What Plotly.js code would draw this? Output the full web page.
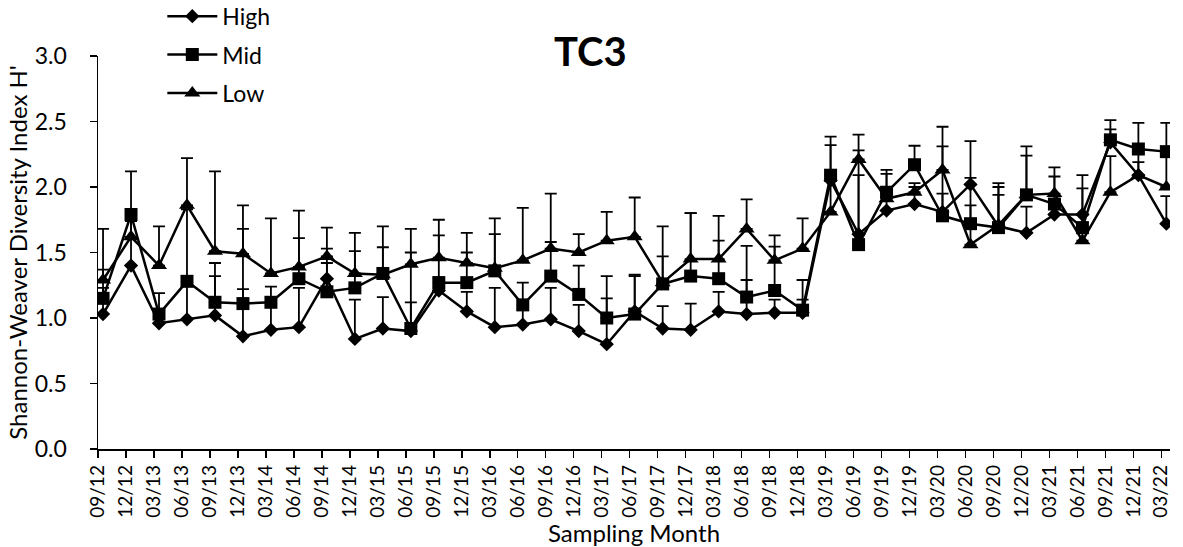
<!DOCTYPE html>
<html><head><meta charset="utf-8">
<script src="https://cdn.plot.ly/plotly-3.0.1.min.js"></script>
<style>html,body{margin:0;padding:0;background:#fff}#chart{width:1183px;height:547px}</style>
</head><body><div id="chart"></div>
<script>
const months = ["09/12","12/12","03/13","06/13","09/13","12/13","03/14","06/14","09/14","12/14","03/15","06/15","09/15","12/15","03/16","06/16","09/16","12/16","03/17","06/17","09/17","12/17","03/18","06/18","09/18","12/18","03/19","06/19","09/19","12/19","03/20","06/20","09/20","12/20","03/21","06/21","09/21","12/21","03/22"];
const high = [1.03,1.40,0.96,0.99,1.02,0.86,0.91,0.93,1.30,0.84,0.92,0.90,1.21,1.05,0.93,0.95,0.99,0.90,0.80,1.05,0.92,0.91,1.05,1.03,1.04,1.04,2.05,1.64,1.82,1.87,1.81,2.02,1.70,1.65,1.79,1.79,2.34,2.09,1.72];
const mid = [1.15,1.79,1.03,1.28,1.12,1.11,1.12,1.30,1.20,1.23,1.34,0.92,1.27,1.27,1.36,1.10,1.32,1.18,1.00,1.03,1.26,1.32,1.30,1.16,1.21,1.06,2.09,1.56,1.96,2.17,1.78,1.72,1.69,1.94,1.87,1.69,2.36,2.29,2.27];
const low = [1.29,1.62,1.40,1.86,1.51,1.49,1.34,1.39,1.47,1.34,1.33,1.41,1.46,1.42,1.38,1.44,1.53,1.50,1.59,1.62,1.27,1.45,1.45,1.68,1.44,1.53,1.81,2.21,1.91,1.96,2.13,1.56,1.71,1.94,1.95,1.59,1.96,2.09,2.00];
const highErr = [0.20,0.35,0.10,0.28,0.30,0.36,0.20,0.30,0.12,0.30,0.24,0.22,0.10,0.15,0.30,0.12,0.24,0.20,0.35,0.27,0.17,0.20,0.15,0.26,0.10,0.10,0.27,0.64,0.10,0.13,0.50,0.33,0.33,0.20,0.10,0.30,0.10,0.20,0.21];
const midErr = [0.22,0.33,0.16,0.55,0.30,0.57,0.12,0.31,0.33,0.28,0.20,0.58,0.36,0.23,0.28,0.17,0.26,0.22,0.32,0.30,0.21,0.48,0.29,0.39,0.335,0.23,0.295,0.53,0.17,0.145,0.17,0.35,0.31,0.37,0.21,0.30,0.15,0.20,0.22];
const lowErr = [0.39,0.12,0.30,0.36,0.61,0.37,0.42,0.43,0.22,0.31,0.37,0.27,0.29,0.23,0.38,0.40,0.42,0.14,0.22,0.30,0.43,0.35,0.33,0.225,0.19,0.23,0.30,0.19,0.19,0.07,0.33,0.30,0.23,0.30,0.20,0.20,0.275,0.10,0.25];

const FONT = "Lato, 'Open Sans', sans-serif";
const xIdx = months.map((m, i) => i);
const tickPos = months.map((m, i) => i - 0.18);

function series(name, y, err, symbol, size) {
  return {
    type: 'scatter', mode: 'lines+markers', name: name, legendgroup: name,
    x: xIdx, y: y,
    line: {color: '#000', width: 2.5},
    marker: {symbol: symbol, size: size, color: '#000'},
    error_y: {type: 'data', symmetric: false, array: err, arrayminus: err.map(() => 0),
              color: '#000', thickness: 1.8, width: 6},
    hoverinfo: 'x+y'
  };
}

const data = [
  series('High', high, highErr, 'diamond', 11),
  series('Mid', mid, midErr, 'square', 13),
  series('Low', low, lowErr, 'triangle-up', 14)
];

const layout = {
  width: 1183, height: 547,
  margin: {l: 98, r: 13, t: 56, b: 98, autoexpand: false},
  paper_bgcolor: '#fff', plot_bgcolor: '#fff',
  font: {family: FONT, color: '#000'},
  title: {text: '<b>TC3</b>', font: {size: 40, family: FONT, color: '#000'},
          x: 0.499, xanchor: 'center', y: 0.905, yanchor: 'middle'},
  showlegend: true,
  legend: {x: 0.06, y: 1.156, xanchor: 'left', yanchor: 'top',
           font: {size: 23, family: FONT, color: '#000'},
           bgcolor: 'rgba(0,0,0,0)', traceorder: 'grouped', tracegroupgap: 5.5, itemwidth: 50},
  xaxis: {
    type: 'linear', range: [-0.18, 38.13],
    tickmode: 'array', tickvals: tickPos, ticktext: months, tickangle: -90,
    ticks: 'outside', ticklen: 7, tickwidth: 1.5, tickcolor: '#000',
    showline: true, linecolor: '#000', linewidth: 1.5,
    showgrid: false, zeroline: false,
    tickfont: {size: 19, family: FONT, color: '#000'},
    title: {text: 'Sampling Month', font: {size: 24, family: FONT, color: '#000'}, standoff: 6}
  },
  yaxis: {
    range: [0, 3], tick0: 0, dtick: 0.5, tickformat: '.1f',
    ticks: 'outside', ticklen: 7, tickwidth: 1.5, tickcolor: '#000',
    showline: true, linecolor: '#000', linewidth: 1.5,
    showgrid: false, zeroline: false,
    tickfont: {size: 23, family: FONT, color: '#000'},
    ticklabelstandoff: 18,
    title: {text: "Shannon-Weaver Diversity Index H'", font: {size: 24, family: FONT, color: '#000'}, standoff: 0}
  }
};

Plotly.newPlot('chart', data, layout, {displayModeBar: false, staticPlot: true});
</script>
</body></html>
